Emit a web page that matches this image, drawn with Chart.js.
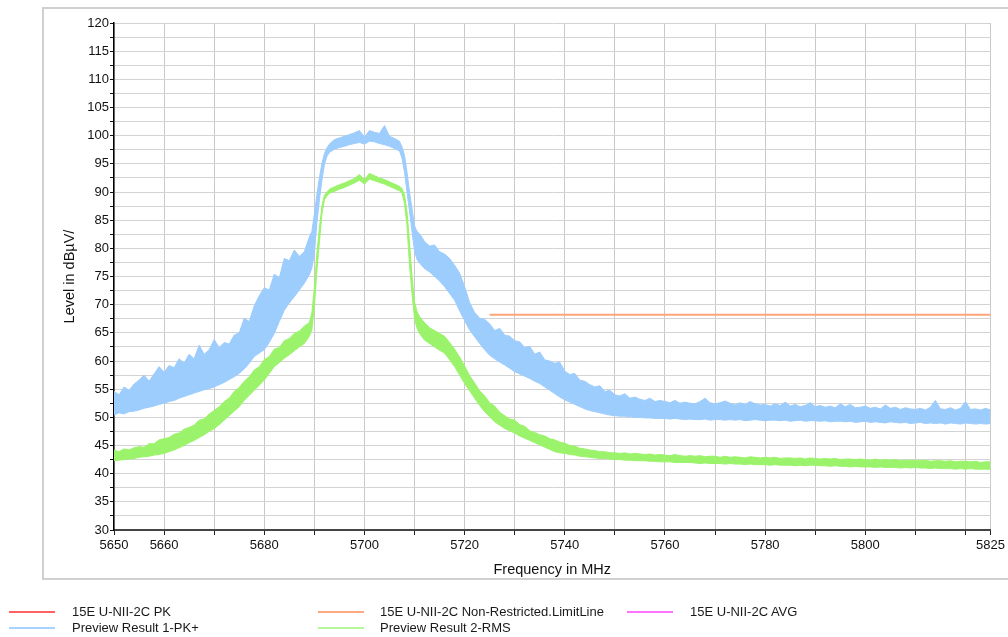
<!DOCTYPE html>
<html>
<head>
<meta charset="utf-8">
<script src="https://cdn.jsdelivr.net/npm/chart.js@4.4.1/dist/chart.umd.min.js"></script>
<style>
  html, body { margin: 0; padding: 0; background: #fff; width: 1008px; height: 637px; overflow: hidden;
    font-family: Arial, "Liberation Sans", sans-serif; }
  #frame { position: absolute; left: 42px; top: 7px; width: 990px; height: 573px; box-sizing: border-box;
    border: 2px solid #d0d0d0; }
  #spec { position: absolute; left: 0; top: 0; }
  .lg { position: absolute; font-size: 13px; line-height: 16px; color: #1a1a1a; white-space: nowrap; }
  .sw { position: absolute; height: 2px; }
</style>
</head>
<body>
<div id="frame"></div>
<canvas id="spec" width="1008" height="637"></canvas>
<div id="legend"></div>
<script>
// Sweep frequencies (MHz); denser around the channel edges
const freqMHz = [
  5650,5651,5652,5653,5654,5655,5656,5657,5658,5659,
  5660,5661,5662,5663,5664,5665,5666,5667,5668,5669,
  5670,5671,5672,5673,5674,5675,5676,5677,5678,5679,
  5680,5681,5682,5683,5684,5685,5686,5687,5688,5689,
  5689.5,5690,5690.5,5691,5691.5,5692,5692.5,5693,
  5694,5695,5696,5697,5698,5699,5700,5701,5702,5703,5704,5705,5706,5707,
  5707.5,5708,5708.5,5709,5709.5,5710,5710.5,5711,
  5712,5713,5714,5715,5716,5717,5718,5719,5720,5721,
  5722,5723,5724,5725,5726,5727,5728,5729,5730,5731,
  5732,5733,5734,5735,5736,5737,5738,5739,5740,5741,
  5742,5743,5744,5745,5746,5747,5748,5749,5750,5751,
  5752,5753,5754,5755,5756,5757,5758,5759,5760,5761,
  5762,5763,5764,5765,5766,5767,5768,5769,5770,5771,
  5772,5773,5774,5775,5776,5777,5778,5779,5780,5781,
  5782,5783,5784,5785,5786,5787,5788,5789,5790,5791,
  5792,5793,5794,5795,5796,5797,5798,5799,5800,5801,
  5802,5803,5804,5805,5806,5807,5808,5809,5810,5811,
  5812,5813,5814,5815,5816,5817,5818,5819,5820,5821,
  5822,5823,5824,5825
];

// Preview Result 1-PK+ : upper and lower edge of the trace (dBµV)
const pkHigh = [
  54.6,54.0,55.4,54.8,55.9,56.6,57.5,56.4,57.7,59.0,
  58.0,59.2,58.8,60.4,59.6,61.2,60.4,62.8,61.2,62.0,
  63.8,62.4,63.3,63.0,64.6,65.0,67.6,67.0,69.8,71.6,
  73.0,72.6,75.4,74.8,78.2,77.8,79.7,78.6,79.4,82.0,
  83.0,86.0,89.5,92.5,95.0,96.8,97.8,98.5,
  99.3,99.6,99.9,100.2,100.5,100.9,99.8,100.9,100.6,100.4,101.8,99.9,99.5,99.0,
  98.0,96.5,93.5,90.0,87.0,84.0,83.0,82.6,
  81.2,80.4,80.6,79.4,79.0,78.2,77.0,75.6,73.2,70.4,
  68.6,67.6,67.4,66.6,65.4,65.8,64.6,64.4,63.6,63.4,
  62.4,62.6,61.2,61.6,60.2,60.0,59.6,59.8,58.2,57.6,
  57.8,56.6,56.4,55.8,55.4,55.6,54.6,54.8,54.0,53.8,
  54.2,53.4,53.6,53.2,53.0,53.4,52.8,53.0,52.8,52.6,
  53.0,52.5,52.7,52.5,52.4,52.8,53.4,52.6,52.4,52.6,
  52.9,52.5,52.2,52.6,52.3,52.8,52.4,52.2,52.3,52.0,
  52.4,52.1,52.7,52.0,52.3,51.9,52.1,52.6,51.9,52.1,
  51.8,52.0,51.7,52.4,51.9,52.3,51.7,51.8,52.0,51.6,
  51.8,51.5,52.2,51.6,51.8,51.4,51.7,51.5,51.4,51.6,
  51.3,51.8,53.0,51.5,51.4,51.7,51.3,51.6,52.8,51.4,
  51.5,51.3,51.6,51.3
];
const pkLow = [
  50.4,50.8,50.6,51.0,51.1,51.3,51.6,51.8,52.0,52.3,
  52.5,52.8,53.0,53.4,53.7,54.0,54.3,54.6,54.9,55.1,
  55.4,55.8,56.2,56.7,57.2,57.8,58.6,59.6,60.8,61.4,
  62.0,63.3,64.9,67.0,69.0,70.3,71.4,72.6,73.8,75.3,
  76.5,79.0,84.5,88.5,92.0,94.8,96.3,97.0,
  97.6,97.9,98.1,98.4,98.6,98.8,98.5,99.0,98.9,98.6,98.4,98.1,97.7,97.3,
  96.0,93.5,90.0,86.5,83.0,79.5,78.0,77.4,
  76.4,75.8,75.0,74.2,73.2,72.0,70.8,68.9,67.2,65.5,
  64.3,63.1,62.0,61.0,60.4,59.8,59.3,58.7,58.1,57.7,
  57.3,56.9,56.4,56.0,55.4,54.8,54.2,53.6,53.1,52.7,
  52.3,51.9,51.5,51.2,51.0,50.8,50.6,50.4,50.3,50.2,
  50.2,50.1,50.0,50.0,49.9,49.9,49.8,49.8,49.8,49.7,
  49.8,49.7,49.6,49.7,49.6,49.6,49.7,49.5,49.6,49.6,
  49.5,49.6,49.5,49.6,49.4,49.5,49.6,49.5,49.4,49.5,
  49.5,49.4,49.5,49.3,49.4,49.5,49.3,49.4,49.4,49.3,
  49.4,49.2,49.3,49.3,49.2,49.3,49.1,49.2,49.3,49.1,
  49.2,49.1,49.0,49.2,49.1,49.0,49.1,48.9,49.0,49.1,
  48.9,49.0,48.9,49.0,48.8,49.0,48.9,48.8,49.0,48.9,
  48.8,48.9,48.8,48.9
];

// Preview Result 2-RMS : upper and lower edge of the trace (dBµV)
const rmsHigh = [
  44.2,43.9,44.4,44.2,44.6,44.8,44.7,45.3,45.3,46.0,
  46.2,46.4,47.0,47.2,47.9,48.2,48.6,49.5,49.7,50.6,
  51.2,51.9,52.8,53.4,54.6,55.3,56.4,57.2,58.4,59.0,
  60.2,60.8,62.1,62.4,63.6,64.0,64.9,65.3,66.2,66.8,
  68.5,73.0,79.0,83.5,87.5,89.4,90.0,90.5,
  90.9,91.3,91.6,92.0,92.4,93.1,92.2,93.3,92.9,92.5,92.2,91.8,91.4,91.0,
  90.6,89.5,86.5,81.0,75.0,70.5,68.8,67.9,
  66.8,65.9,65.4,64.9,64.4,63.3,62.1,60.7,59.1,57.4,
  56.1,54.7,53.8,52.6,52.0,50.9,50.3,49.7,49.5,48.7,
  48.4,47.6,47.3,46.9,46.7,46.2,46.0,45.6,45.4,45.0,
  44.9,44.5,44.4,44.2,44.1,43.9,43.9,43.7,43.7,43.6,
  43.7,43.5,43.6,43.5,43.4,43.5,43.3,43.4,43.3,43.2,
  43.4,43.2,43.1,43.2,43.1,43.2,43.0,43.1,43.1,42.9,
  43.1,42.9,43.0,42.9,42.8,43.0,42.9,42.8,42.9,42.8,
  42.9,42.7,42.8,42.8,42.7,42.8,42.6,42.8,42.7,42.6,
  42.7,42.6,42.7,42.5,42.6,42.6,42.5,42.6,42.5,42.4,
  42.6,42.4,42.5,42.4,42.5,42.3,42.4,42.4,42.4,42.3,
  42.4,42.2,42.3,42.3,42.2,42.3,42.1,42.2,42.2,42.1,
  42.2,42.0,42.1,42.1
];
const rmsLow = [
  42.3,42.4,42.5,42.6,42.7,42.9,43.0,43.1,43.3,43.4,
  43.6,43.9,44.2,44.6,45.0,45.5,45.9,46.4,46.9,47.5,
  48.0,48.7,49.5,50.3,51.1,51.9,53.0,53.9,54.8,55.7,
  56.6,57.8,59.0,59.7,60.5,61.1,61.8,62.5,63.1,64.4,
  65.5,69.5,76.0,81.0,86.0,88.6,89.3,89.8,
  90.1,90.5,90.8,91.2,91.6,92.1,91.4,92.3,92.0,91.7,91.4,91.0,90.6,90.2,
  89.8,88.0,84.0,77.0,72.0,67.5,65.8,64.9,
  63.7,63.1,62.5,61.9,61.4,60.2,59.0,57.5,56.0,54.7,
  53.4,52.1,51.0,50.1,49.2,48.6,48.0,47.6,47.2,46.7,
  46.3,45.9,45.5,45.1,44.7,44.3,43.9,43.7,43.6,43.4,
  43.3,43.1,43.0,42.9,42.8,42.7,42.7,42.6,42.5,42.5,
  42.4,42.4,42.3,42.3,42.3,42.2,42.2,42.1,42.1,42.1,
  42.0,42.0,42.0,42.0,41.9,41.8,41.9,41.8,41.8,41.8,
  41.7,41.8,41.7,41.7,41.6,41.7,41.6,41.6,41.6,41.5,
  41.6,41.5,41.5,41.5,41.4,41.5,41.4,41.5,41.5,41.4,
  41.4,41.3,41.4,41.3,41.3,41.2,41.3,41.2,41.2,41.2,
  41.1,41.2,41.1,41.1,41.1,41.0,41.1,41.0,41.1,41.0,
  41.0,40.9,41.0,40.9,40.9,40.9,40.8,40.9,40.8,40.9,
  40.8,40.8,40.8,40.8
];

// 15E U-NII-2C Non-Restricted limit line
const limitFreq  = [5725, 5825];
const limitLevel = [68.2, 68.2];

// Axis ticks
const xGridFreqs  = [5650,5660,5670,5680,5690,5700,5710,5720,5730,5740,5750,5760,5770,5780,5790,5800,5810,5820,5825];
const xTickLabels = [5650,5660,5680,5700,5720,5740,5760,5780,5800,5825];
const yMin = 30, yMax = 120, yStep = 2.5, yLabelStep = 5;

// Legend entries: [text, colour, column, row]
const legendItems = [
  ['15E U-NII-2C PK', '#ff6262', 0, 0],
  ['Preview Result 1-PK+', '#a9d3ff', 0, 1],
  ['15E U-NII-2C Non-Restricted.LimitLine', '#ffa982', 1, 0],
  ['Preview Result 2-RMS', '#b4f89a', 1, 1],
  ['15E U-NII-2C AVG', '#ff72ff', 2, 0]
];

const BLUE = '#9dcdfd';
const GREEN = '#9bf36b';
const ORANGE = '#ffa479';
const FONT = 'Arial, "Liberation Sans", sans-serif';

const pts = (xs, ys) => ys.map((v, i) => ({ x: xs[i], y: v }));

const band = (label, values, colour, fill, order) => ({
  label, data: pts(freqMHz, values), borderColor: colour, backgroundColor: colour,
  borderWidth: 1, pointRadius: 0, fill, order, tension: 0
});

new Chart(document.getElementById('spec'), {
  type: 'line',
  data: {
    datasets: [
      { label: '15E U-NII-2C Non-Restricted.LimitLine', data: pts(limitFreq, limitLevel),
        borderColor: ORANGE, borderWidth: 2, pointRadius: 0, fill: false, order: 0 },
      band('Preview Result 2-RMS', rmsHigh, GREEN, '+1', 1),
      band('Preview Result 2-RMS low', rmsLow, GREEN, false, 1),
      band('Preview Result 1-PK+', pkHigh, BLUE, '+1', 2),
      band('Preview Result 1-PK+ low', pkLow, BLUE, false, 2)
    ]
  },
  options: {
    responsive: false,
    animation: false,
    devicePixelRatio: 1,
    layout: { padding: { left: 57, top: 23, right: 17, bottom: 55 } },
    plugins: { legend: { display: false }, tooltip: { enabled: false } },
    scales: {
      x: {
        type: 'linear', min: 5650, max: 5825,
        afterBuildTicks: s => { s.ticks = xGridFreqs.map(v => ({ value: v })); },
        afterFit: s => { s.height = 52; },
        grid: { color: '#c9c9c9', lineWidth: 1, tickLength: 5, tickColor: '#222' },
        border: { color: '#444', width: 2 },
        ticks: {
          autoSkip: false, maxRotation: 0, minRotation: 0, padding: 3, color: '#111',
          font: { family: FONT, size: 13 },
          callback: v => xTickLabels.includes(v) ? String(v) : ''
        },
        title: { display: true, text: 'Frequency in MHz', color: '#111',
          font: { family: FONT, size: 14.5 }, padding: { top: 4, bottom: 3 } }
      },
      y: {
        type: 'linear', min: yMin, max: yMax,
        afterBuildTicks: s => {
          const t = [];
          for (let v = yMin; v <= yMax + 1e-9; v += yStep) t.push({ value: v });
          s.ticks = t;
        },
        afterFit: s => { s.width = 57; },
        grid: { color: '#d3d3d3', lineWidth: 1, tickLength: 4, tickColor: '#111' },
        border: { color: '#000', width: 1.5 },
        ticks: {
          autoSkip: false, padding: 1, color: '#111', font: { family: FONT, size: 13 },
          callback: v => (Math.abs(v % yLabelStep) < 1e-9 ? String(v) : '')
        },
        title: { display: true, text: 'Level in dBµV/', color: '#111',
          font: { family: FONT, size: 14.5 }, padding: { top: 4, bottom: 4 } }
      }
    }
  }
});

// Legend below the frame
const colX = [[9, 72], [318, 380], [627, 690]];
const rowY = [612, 628];
const lg = document.getElementById('legend');
legendItems.forEach(([text, colour, c, r]) => {
  const sw = document.createElement('div');
  sw.className = 'sw';
  sw.style.cssText = `left:${colX[c][0]}px;top:${rowY[r] - 1}px;width:46px;background:${colour}`;
  lg.appendChild(sw);
  const t = document.createElement('div');
  t.className = 'lg';
  t.style.cssText = `left:${colX[c][1]}px;top:${rowY[r] - 8}px`;
  t.textContent = text;
  lg.appendChild(t);
});
</script>
</body>
</html>
